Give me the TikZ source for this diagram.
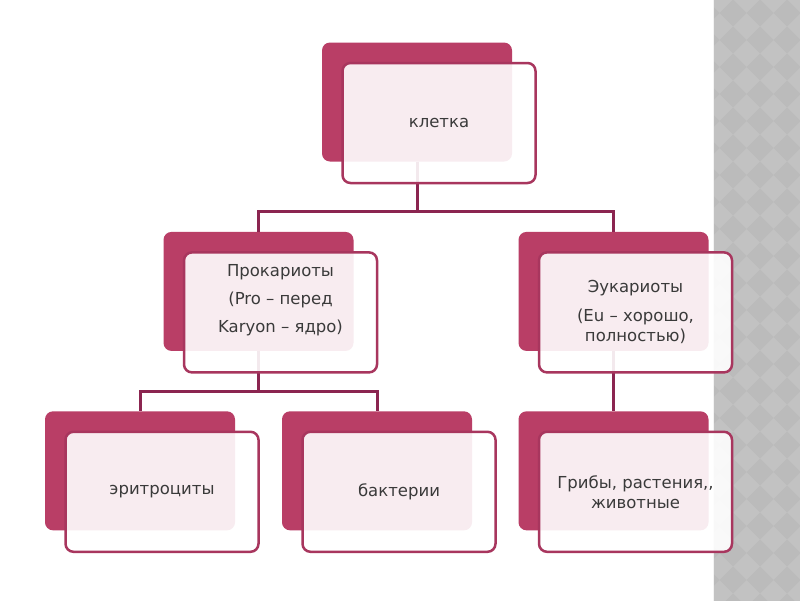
\documentclass[tikz,border=0pt]{standalone}
\usepackage{fontspec}
\setmainfont{DejaVu Sans}
\usepackage{tikz}
\usetikzlibrary{positioning}
\definecolor{boxpink}{HTML}{B93E66}
\definecolor{boxrim}{HTML}{A8365E}
\definecolor{linkred}{HTML}{8B2550}
\definecolor{stripgray}{HTML}{C2C2C2}
\definecolor{stripdark}{HTML}{BBBBBB}
\definecolor{textgray}{HTML}{3A3A3A}
\tikzstyle{back}=[rectangle,rounded corners=8pt,fill=boxpink,minimum width=190pt,minimum height=119pt,inner sep=0pt]
\tikzstyle{front}=[rectangle,rounded corners=8pt,draw=boxrim,line width=2.5pt,fill=white,fill opacity=0.9,text opacity=1,minimum width=193pt,minimum height=120pt,xshift=22pt,yshift=-21pt,align=center,text=textgray,font=\fontsize{16.5}{20}\selectfont]
\tikzstyle{link}=[draw=linkred,line width=3pt]

\begin{document}
\begin{tikzpicture}[x=1pt,y=1pt]
  \useasboundingbox (0,0) rectangle (800,-600);
  \fill[white] (-2,2) rectangle (802,-602);

  % patterned strip on the right
  \begin{scope}
    \clip (713,2) rectangle (802,-602);
    \fill[stripgray] (713,2) rectangle (802,-602);
    \foreach \i in {-1,...,3}
      \foreach \j in {0,...,23}
        \fill[stripdark,shift={({733+27*\i},{-13-27*\j})}] (-13.5,0) -- (0,13.5) -- (13.5,0) -- (0,-13.5) -- cycle;
    \draw[white!80!stripgray,line width=1pt] (713.5,2) -- (713.5,-602);
  \end{scope}

  \node[back]         (cell) at (417,-102)                     {};
  \node[back]         (pro)  [below=70pt of cell, xshift=-158.5pt] {};
  \node[back]         (euk)  [below=70pt of cell, xshift=196.5pt]  {};
  \node[back]         (ery)  [below=60pt of pro, xshift=-118.5pt]  {};
  \node[back]         (bact) [below=60pt of pro, xshift=118.5pt]   {};
  \node[back]         (fungi) [below=60pt of euk]                  {};

  \draw[link] (cell.south) -- ++(0,-50) -| (pro.north);
  \draw[link] (cell.south) -- ++(0,-50) -| (euk.north);
  \draw[link] (pro.south) -- ++(0,-40) -| (ery.north);
  \draw[link] (pro.south) -- ++(0,-40) -| (bact.north);
  \draw[link] (euk.south) -- (fungi.north);

  \node[front] (cellF)  at (cell)  {клетка};
  \node[front] (proF)   at (pro)   {Прокариоты\\[8pt](Pro – перед\\[8pt]Karyon – ядро)\\[8pt]~};
  \node[front] (eukF)   at (euk)   {Эукариоты\\[9pt](Eu – хорошо,\\полностью)};
  \node[front] (eryF)   at (ery)   {эритроциты};
  \node[front] (bactF)  at (bact)  {бактерии};
  \node[front] (fungiF) at (fungi) {Грибы, растения,{},\\животные};
\end{tikzpicture}
\end{document}
